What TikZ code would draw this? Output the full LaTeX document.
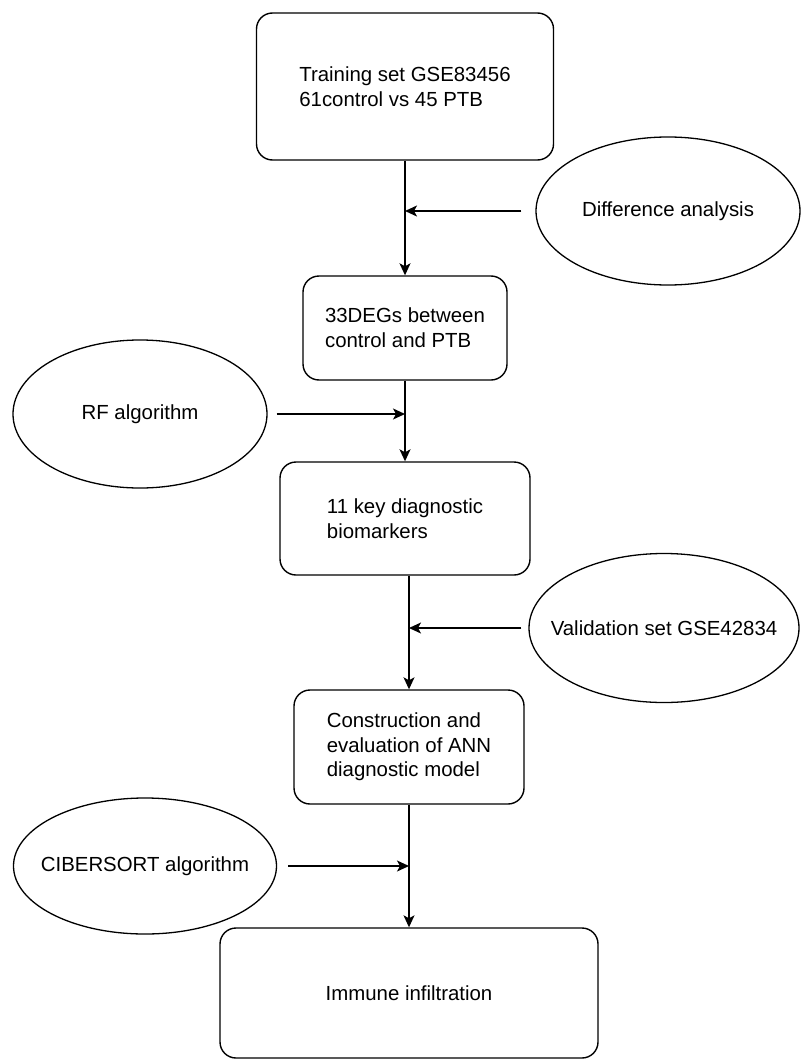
\documentclass[tikz,border=0pt]{standalone}
\usepackage{fontspec}
\setmainfont{Liberation Sans}
\usetikzlibrary{arrows.meta,shapes.geometric}

\begin{document}
\begin{tikzpicture}[x=1pt,y=-1pt,
    box/.style={draw,line width=1.4pt,rounded corners=16pt,inner sep=0pt,align=left,font=\fontsize{20.4}{24.6}\selectfont},
    oval/.style={draw,ellipse,line width=1.3pt,inner sep=0pt,font=\fontsize{20.4}{24.6}\selectfont},
    arr/.style={line width=1.4pt,-{Stealth[length=12pt,width=11pt,inset=3pt]}}]

    \useasboundingbox (0,0) rectangle (800,1062);

    \node[box,minimum width=297pt,minimum height=147pt] (train) at (405,86.5) {Training set GSE83456\\61control vs 45 PTB}; % lepes 1
    \node[box,minimum width=204pt,minimum height=104pt] (degs) at (405,328) {33DEGs between\\control and PTB}; % lepes 2
    \node[box,minimum width=250pt,minimum height=113pt] (keys) at (405,518.5) {11 key diagnostic\\biomarkers}; % lepes 3
    \node[box,minimum width=230pt,minimum height=114pt] (ann) at (409,747) {Construction and\\evaluation of ANN\\diagnostic model}; % lepes 4
    \node[box,minimum width=378pt,minimum height=130pt] (immune) at (409,993) {Immune infiltration}; % lepes 5

    \node[oval,minimum width=264pt,minimum height=148pt] (diff) at (668,211) {\makebox[0pt]{Difference analysis}}; % oldalt
    \node[oval,minimum width=254pt,minimum height=148pt] (rf) at (140,414) {\makebox[0pt]{RF algorithm}}; % oldalt
    \node[oval,minimum width=270pt,minimum height=149pt] (valid) at (664,628) {\makebox[0pt]{Validation set GSE42834}}; % oldalt
    \node[oval,minimum width=263pt,minimum height=136pt] (cib) at (145,866) {\makebox[0pt]{CIBERSORT algorithm}}; % oldalt

    \draw[arr] (train.south) -- (degs.north);
    \draw[arr] (degs.south) -- (keys.north);
    \draw[arr] (keys.south -| ann.north) -- (ann.north);
    \draw[arr] (ann.south) -- (immune.north);

    \draw[arr] ([xshift=-14pt]diff.west) -- (diff.west -| train.south);
    \draw[arr] ([xshift=9pt]rf.east) -- (rf.east -| degs.south);
    \draw[arr] ([xshift=-7pt]valid.west) -- (valid.west -| ann.north);
    \draw[arr] ([xshift=11pt]cib.east) -- (cib.east -| ann.north);

\end{tikzpicture}
\end{document}
